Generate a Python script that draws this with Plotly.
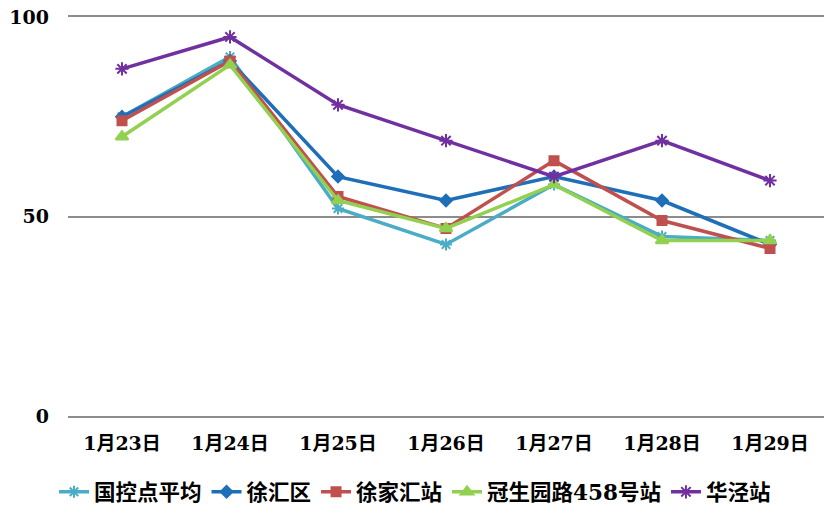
import plotly.graph_objects as go

dates = ["1月23日", "1月24日", "1月25日", "1月26日", "1月27日", "1月28日", "1月29日"]

s_guokong = [75, 90, 52, 43, 58, 45, 44]
s_xuhuiqu = [75, 89, 60, 54, 60, 54, 43]
s_xujiahui = [74, 89, 55, 47, 64, 49, 42]
s_guansheng = [70, 88, 54, 47, 58, 44, 44]
s_huajing = [87, 95, 78, 69, 60, 69, 59]

names = ["国控点平均", "徐汇区", "徐家汇站", "冠生园路458号站", "华泾站"]
series = [s_guokong, s_xuhuiqu, s_xujiahui, s_guansheng, s_huajing]
colors = ["#4BACC6", "#1F6EB8", "#C0504D", "#92D050", "#7030A0"]
symbols = ["asterisk-open", "diamond", "square", "triangle-up", "asterisk-open"]
sizes = [10, 9, 9, 11, 11]

y_ticks = [0, 50, 100]

fig = go.Figure()
for name, vals, col, sym, sz in zip(names, series, colors, symbols, sizes):
    fig.add_trace(go.Scatter(
        x=dates, y=vals, name=name, mode="lines+markers",
        line=dict(color=col, width=3.5),
        marker=dict(symbol=sym, size=sz, color=col, line=dict(color=col, width=2)),
    ))

font_fam = "DejaVu Serif, Noto Sans CJK SC"
fig.update_layout(
    width=828, height=523,
    margin=dict(l=68, r=4, t=17, b=107),
    plot_bgcolor="white", paper_bgcolor="white",
    showlegend=True,
    legend=dict(orientation="h", x=0.459, xanchor="center", y=-0.19, yanchor="middle",
                font=dict(family=font_fam, size=21.5, color="black", weight="bold"),
                itemwidth=30, tracegroupgap=0),
    xaxis=dict(type="category", range=[-0.5, 6.5], showgrid=False,
               showline=True, mirror=True, linecolor="#8C8C8C", linewidth=2,
               zeroline=False, ticks="", ticklabelstandoff=9, automargin=False,
               tickfont=dict(family=font_fam, size=19, color="black", weight="bold")),
    yaxis=dict(range=[0, 100], tickvals=y_ticks, showgrid=True, gridcolor="#8C8C8C",
               gridwidth=2, zeroline=False, showline=False, ticks="",
               ticklabelstandoff=18, automargin=False, ticklabeloverflow="allow",
               tickfont=dict(family=font_fam, size=19, color="black", weight="bold")),
)
fig.write_html("out.html", config={"displayModeBar": False},
               post_script="document.body.style.margin='0';")
